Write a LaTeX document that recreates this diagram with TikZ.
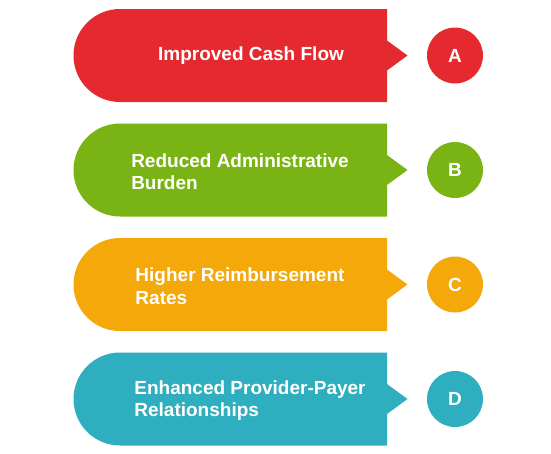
\documentclass[tikz,border=0pt]{standalone}
\usepackage{fontspec}
\setmainfont{Liberation Sans}
\definecolor{cRed}{HTML}{E52A2F}
\definecolor{cGreen}{HTML}{7AB414}
\definecolor{cOrange}{HTML}{F4A80A}
\definecolor{cTeal}{HTML}{2EAEBF}
\newcommand\bannershape[2]{%
  \fill[#2] (387,#1) -- (120,#1) arc(270:90:46.5) -- (387,#1+93) -- (387,#1+61.5) -- (407.5,#1+46.5) -- (387,#1+31.5) -- cycle;}
\begin{document}
\begin{tikzpicture}[x=1pt,y=-1pt,
  bannertext/.style={text=white,font=\bfseries\fontsize{19}{22.5}\selectfont,align=left,inner sep=0pt},
  badge/.style={circle,minimum size=56pt,inner sep=0pt,text=white,font=\bfseries\fontsize{19}{22}\selectfont}]
\useasboundingbox (0,0) rectangle (551,453);
\bannershape{9}{cRed}
\bannershape{123.5}{cGreen}
\bannershape{238}{cOrange}
\bannershape{352.5}{cTeal}
\node[bannertext] (t1) at (251,55.5) {Improved Cash Flow};
\node[bannertext] (t2) at (240,171.5) {Reduced Administrative\\Burden};
\node[bannertext] (t3) at (240,286) {Higher Reimbursement\\Rates};
\node[bannertext] (t4) at (250,400.5) {Enhanced Provider-Payer\\Relationships};
\node[badge,fill=cRed] (bA) at (455,55.5) {A};
\node[badge,fill=cGreen] (bB) at (455,170) {B};
\node[badge,fill=cOrange] (bC) at (455,284.5) {C};
\node[badge,fill=cTeal] (bD) at (455,399) {D};
\end{tikzpicture}
\end{document}
